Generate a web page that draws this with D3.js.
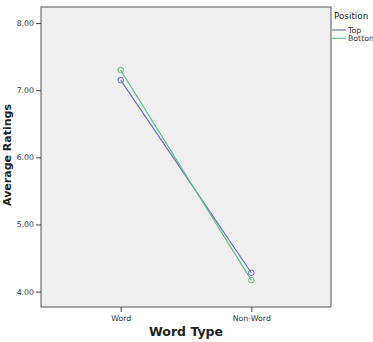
<!DOCTYPE html>
<html>
<head>
<meta charset="utf-8">
<script src="https://cdn.jsdelivr.net/npm/d3@7"></script>
<style>
  body { margin: 0; background: #fff; }
  text { font-family: "DejaVu Sans", Verdana, sans-serif; }
</style>
</head>
<body>
<svg id="chart"></svg>
<script>
// Chart data
const categories = ["Word", "Non-Word"];
const seriesNames = ["Top", "Botton"];
const topValues = [7.15, 4.28];
const bottomValues = [7.30, 4.17];
const yTicks = [4, 5, 6, 7, 8];
const colors = ["#6673b0", "#63c28a"];

const width = 373;
const height = 342;
const margin = { top: 7, right: 42, bottom: 35, left: 41 };

const svg = d3.select("#chart")
    .attr("width", width)
    .attr("height", height);

const x = d3.scalePoint()
    .domain(categories)
    .range([margin.left, width - margin.right])
    .padding(0.61);

const y = d3.scaleLinear()
    .domain([3.77, 8.24])
    .range([height - margin.bottom, margin.top]);

// plot background
svg.append("rect")
    .attr("x", margin.left)
    .attr("y", margin.top)
    .attr("width", width - margin.left - margin.right)
    .attr("height", height - margin.top - margin.bottom)
    .attr("fill", "#efefef")
    .attr("stroke", "#555")
    .attr("stroke-width", 1);

// axes
const yAxis = svg.append("g")
    .attr("transform", `translate(${margin.left},0)`)
    .call(d3.axisLeft(y).tickValues(yTicks).tickFormat(d3.format(".2f")).tickSize(5).tickPadding(2));
yAxis.select(".domain").remove();

const xAxis = svg.append("g")
    .attr("transform", `translate(0,${height - margin.bottom})`)
    .call(d3.axisBottom(x).tickSize(5).tickPadding(3));
xAxis.select(".domain").remove();

svg.selectAll(".tick line").attr("stroke", "#444");
svg.selectAll(".tick text").attr("font-size", 7.8).attr("fill", "#333");

// axis titles
svg.append("text")
    .attr("x", (margin.left + width - margin.right) / 2)
    .attr("y", 336)
    .attr("text-anchor", "middle")
    .attr("font-size", 12.5)
    .attr("font-weight", "bold")
    .attr("fill", "#222")
    .text("Word Type");

svg.append("text")
    .attr("transform", `translate(11,155) rotate(-90)`)
    .attr("text-anchor", "middle")
    .attr("font-size", 11)
    .attr("font-weight", "bold")
    .attr("fill", "#222")
    .text("Average Ratings");

// lines and markers
const series = [topValues, bottomValues];
const line = d3.line()
    .x((d, i) => x(categories[i]))
    .y(d => y(d));

series.forEach((vals, s) => {
    svg.append("path")
        .datum(vals)
        .attr("d", line)
        .attr("fill", "none")
        .attr("stroke", colors[s])
        .attr("stroke-width", 1.2);
    svg.selectAll(null)
        .data(vals)
        .enter()
        .append("circle")
        .attr("cx", (d, i) => x(categories[i]))
        .attr("cy", d => y(d))
        .attr("r", 2.8)
        .attr("fill", "none")
        .attr("stroke", colors[s])
        .attr("stroke-width", 1);
});

// legend
const legend = svg.append("g").attr("transform", "translate(334,0)");
legend.append("text")
    .attr("x", 0)
    .attr("y", 19)
    .attr("font-size", 8.8)
    .attr("fill", "#222")
    .text("Position");
seriesNames.forEach((name, i) => {
    legend.append("line")
        .attr("x1", -2).attr("x2", 12)
        .attr("y1", 30 + i * 8.3).attr("y2", 30 + i * 8.3)
        .attr("stroke", colors[i])
        .attr("stroke-width", 1.2);
    legend.append("text")
        .attr("x", 14)
        .attr("y", 32.5 + i * 8.3)
        .attr("font-size", 7.8)
        .attr("fill", "#333")
        .text(name);
});
</script>
</body>
</html>
